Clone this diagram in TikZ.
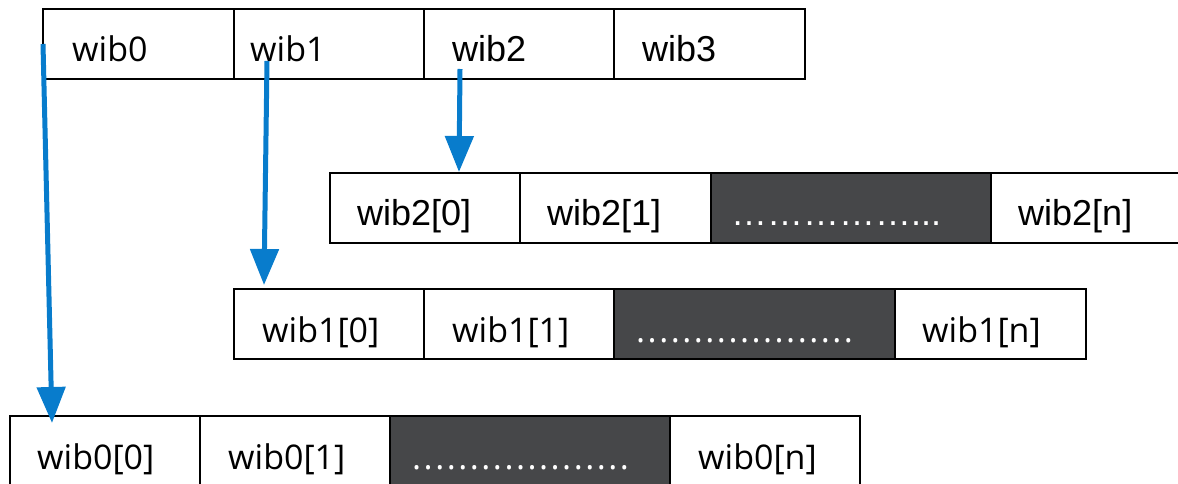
\documentclass[tikz,border=0pt]{standalone}
\usepackage{fontspec}
\setmainfont{Liberation Sans}
\newfontfamily\segoe{Open Sans}
\usetikzlibrary{arrows.meta,calc}
\definecolor{linkblue}{RGB}{8,124,204}
\definecolor{slotgray}{RGB}{70,71,73}
% a run of evenly spaced full stops
\newcommand\dotrun{\foreach \k in {1,...,18}{.\kern2.5pt}.}
\tikzset{
  cell/.style={draw=black, line width=1.6pt, fill=white, inner sep=0pt, anchor=north west, minimum height=70pt},
  darkcell/.style={cell, fill=slotgray},
  lbl/.style={inner sep=0pt, anchor=base west, font=\fontsize{36}{40}\selectfont},
  slbl/.style={lbl, font=\segoe\fontsize{34}{40}\selectfont},
  dotlbl/.style={lbl, text=white},
  sdotlbl/.style={slbl, text=white},
  arr/.style={draw=linkblue, line width=5pt, -{Triangle[length=36pt,width=28pt]}}
}
\begin{document}
\begin{tikzpicture}[x=1pt,y=-1pt]
\useasboundingbox (0,0) rectangle (1178,484);

% top-level array
\node[cell, minimum width=191pt] (t0) at (42,8) {};
\node[cell, minimum width=190pt] (t1) at (233,8) {};
\node[cell, minimum width=190pt] (t2) at (423,8) {};
\node[cell, minimum width=191pt] (t3) at (613,8) {};
\node[slbl] (l0) at (72,62) {wib0};
\node[slbl] (l1) at (250,62) {wib1};
\node[lbl] (l2) at (452,62) {wib2};
\node[lbl] (l3) at (642,62) {wib3};

% wib2 entries
\node[cell, minimum width=190pt] (c20) at (329,172) {};
\node[cell, minimum width=191pt] (c21) at (519,172) {};
\node[darkcell, minimum width=280pt] (c22) at (710,172) {};
\node[cell, minimum width=200pt] (c2n) at (990,172) {};
\node[lbl] (m20) at (357,225) {wib2[0]};
\node[lbl] (m21) at (547,225) {wib2[1]};
\node[dotlbl] (m22) at (731,225) {……………...};
\node[lbl] (m2n) at (1018,225) {wib2[n]};

% wib1 entries
\node[cell, minimum width=190pt] (c10) at (233,288) {};
\node[cell, minimum width=190pt] (c11) at (423,288) {};
\node[darkcell, minimum width=281pt] (c12) at (613,288) {};
\node[cell, minimum width=191pt] (c1n) at (894,288) {};
\node[slbl] (m10) at (262,342) {wib1[0]};
\node[slbl] (m11) at (452,342) {wib1[1]};
\node[sdotlbl] (m12) at (636,342) {\dotrun};
\node[slbl] (m1n) at (922,342) {wib1[n]};

% wib0 entries
\node[cell, minimum width=190pt, minimum height=80pt] (c00) at (9,415) {};
\node[cell, minimum width=190pt, minimum height=80pt] (c01) at (199,415) {};
\node[darkcell, minimum width=280pt, minimum height=80pt] (c02) at (389,415) {};
\node[cell, minimum width=190pt, minimum height=80pt] (c0n) at (669,415) {};
\node[slbl] (m00) at (37,469) {wib0[0]};
\node[slbl] (m01) at (228,469) {wib0[1]};
\node[sdotlbl] (m02) at (412,469) {\dotrun};
\node[slbl] (m0n) at (698,469) {wib0[n]};

% pointers from the top-level slots to their entry arrays
\draw[arr] ($(t0.north west)+(1,36)$) -- ($(c00.north west)+(43,8)$);
\draw[arr] ($(t1.north west)+(34,53)$) -- ($(c10.north west)+(31,-3)$);
\draw[arr] ($(t2.north west)+(37,61)$) -- ($(c20.north west)+(130,0)$);
\end{tikzpicture}
\end{document}
